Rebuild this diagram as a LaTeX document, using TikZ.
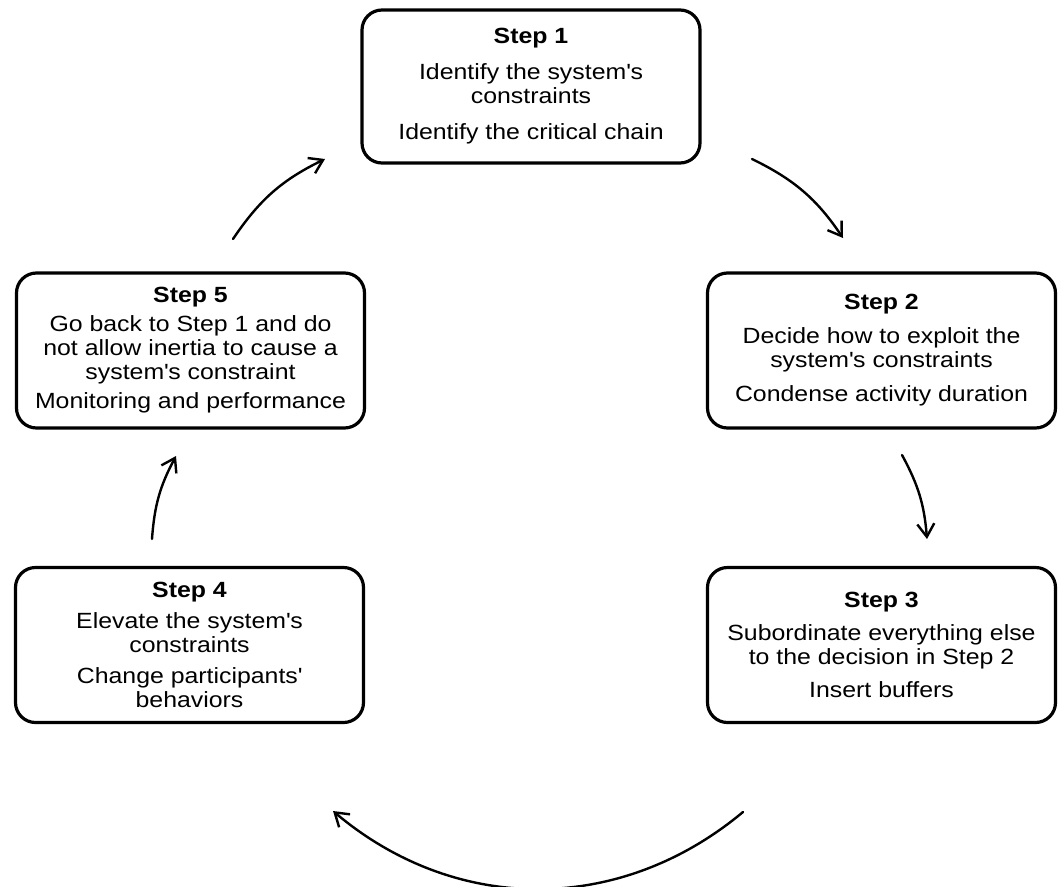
\documentclass[tikz,border=0pt]{standalone}
\usepackage{fontspec}
\setmainfont{Liberation Sans}[FakeStretch=1.13]
\usetikzlibrary{arrows.meta}
\newcommand{\ap}{\textquotesingle}

\begin{document}
\begin{tikzpicture}[x=1pt,y=-1pt]
\tikzset{
  stepnode/.style={rectangle,rounded corners=20pt,draw=black,line width=3.2pt,minimum width=348pt,minimum height=155pt,inner sep=2pt,align=center,font=\fontsize{22}{24}\selectfont},
  cycleedge/.style={draw=black,line width=2.4pt,line cap=round,line join=round},
  stepflow/.style={cycleedge,-{Straight Barb[length=13pt,width=17pt]}}
}
\useasboundingbox (0,0) rectangle (1059,886);
\node[stepnode,minimum width=338pt,minimum height=153pt] (n_S1) at (531,86.5) {\textbf{Step 1}\\[12pt]Identify the system\ap s\\constraints\\[12pt]Identify the critical chain};
\node[stepnode] (n_S2) at (881.5,350.5) {\textbf{Step 2}\\[10pt]Decide how to exploit the\\system\ap s constraints\\[10pt]Condense activity duration};
\node[stepnode] (n_S3) at (881.5,645) {\textbf{Step 3}\\[9pt]Subordinate everything else\\to the decision in Step 2\\[9pt]Insert buffers};
\node[stepnode] (n_S4) at (189.5,645) {\textbf{Step 4}\\[7pt]Elevate the system\ap s\\constraints\\[7pt]Change participants\ap\\behaviors};
\node[stepnode] (n_S5) at (190.5,350.5) {\textbf{Step 5}\\[5pt]Go back to Step 1 and do\\not allow inertia to cause a\\system\ap s constraint\\[5pt]Monitoring and performance};
\coordinate (c_12a) at (752,159);
\coordinate (c_12b) at (843,238);
\coordinate (c_23a) at (902,455);
\coordinate (c_23b) at (927,539);
\coordinate (c_34a) at (743,812);
\coordinate (c_34b) at (333,811);
\coordinate (c_45a) at (152,539);
\coordinate (c_45b) at (176,456);
\coordinate (c_51a) at (233,239);
\coordinate (c_51b) at (325,159);
\draw[stepflow] (c_12a) to[bend left=15] (c_12b);
\draw[stepflow] (c_23a) to[bend left=12] (c_23b);
\draw[stepflow] (c_34a) to[bend left=40] (c_34b);
\draw[stepflow] (c_45a) to[bend left=12] (c_45b);
\draw[stepflow] (c_51a) to[bend left=15] (c_51b);
\end{tikzpicture}
\end{document}
